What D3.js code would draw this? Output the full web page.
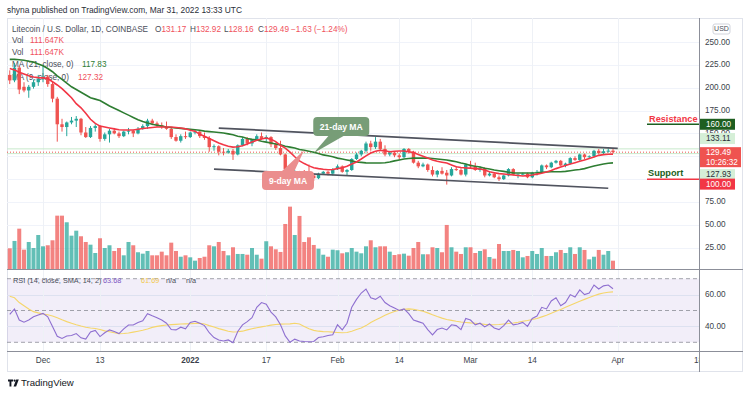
<!DOCTYPE html>
<html>
<head>
<meta charset="utf-8">
<title>LTCUSD 1D</title>
<script src="https://cdn.jsdelivr.net/npm/d3@7/dist/d3.min.js"></script>
<style>
  body { margin: 0; background: #fff; }
  svg { display: block; font-family: "Liberation Sans", Arial, sans-serif; }
</style>
</head>
<body>
<svg id="chart" width="750" height="395"></svg>
<script>
// Litecoin / U.S. Dollar, 1D, COINBASE - daily bars 2021-11-24 .. 2022-03-31
const firstDay = "2021-11-24";
const open = [214,208,222,201,197,201,206,210,212,204, 188,160,157,162,164,166,151,146,156,158,
  144,149,153,150,147,152,153,150,155,158, 164,161,159,157,155,146,142,147,146,151,
  152,147,145,135,136,130,129,131,127,137, 144,139,143,147,144,146,138,134,127,111,
  103,108,106,105,104,101,106,108,106,111, 114,108,110,122,127,131,139,135,141,133,
  127,129,126,124,133,130,118,114,116,110, 105,109,107,104,111,110,105,116,114,110,
  112,104,106,102,100,104,111,104,105,106, 102,107,108,115,113,118,120,115,117,123,
  121,127,124,125,131,128.5,130.5,131.17];
const high = [219,227,224,206,203,209,214,225,214,207, 190,166,163,168,169,167,157,158,160,159,
  151,155,156,152,153,156,154,157,160,166, 166,163,162,163,156,149,149,152,152,154,
  153,151,147,138,137,134,133,133,138,146, 146,144,149,151,148,147,140,142,128,112,
  110,109,110,116,106,107,109,109,112,116, 115,111,123,129,132,141,142,146,144,137,
  131,130,128,134,134,131,120,118,117,114, 110,113,110,113,114,112,117,120,118,114,
  113,108,107,104,105,112,112,106,107,107, 108,110,116,116,119,121,121,118,124,125,
  128,128,126,132,133,133,133.5,132.92];
const low = [204,206,193,195,189,199,202,206,201,184, 141,152,147,160,157,148,145,145,152,141,
  142,140,149,145,146,149,146,149,154,155, 159,157,155,154,144,141,140,144,145,149,
  145,143,130,131,126,126,128,121,126,136, 137,136,142,143,141,135,132,126,108,97,
  101,95,104,103,98,100,105,104,104,110, 107,104,109,121,125,129,131,133,131,125,
  125,124,121,123,128,117,112,113,108,103, 102,105,94,103,109,104,103,112,109,108,
  102,103,101,98,99,103,104,101,104,101, 101,104,107,111,112,117,114,113,116,120,
  120,122,122,124,127,127,129,128.16];
const close = [208,222,198,197,201,206,210,212,204,188, 160,157,162,164,166,151,146,156,158,144,
  149,153,150,147,152,153,150,155,158,164, 161,159,157,155,146,142,147,146,151,152,
  147,145,135,136,130,129,131,127,137,144, 139,143,147,144,146,138,134,127,111,103,
  108,106,105,104,101,106,108,106,111,114, 108,110,122,127,131,139,135,141,133,127,
  129,126,124,133,130,118,114,116,110,105, 109,106,104,111,110,105,116,114,110,112,
  104,106,102,100,104,111,105,105,106,102, 107,108,115,113,118,120,115,117,123,121,
  127,124,125,131,128.5,130.5,131.17,129.49];
// volume in thousands
const volume = [278,377,542,260,363,282,457,305,319,386, 717,717,628,448,515,440,363,327,215,413,
  282,319,242,282,184,363,319,225,206,242, 184,184,233,184,354,242,165,184,157,112,
  148,165,319,305,363,242,184,292,202,202, 192,282,192,139,373,305,265,229,605,838,
  457,713,363,426,323,273,192,165,260,252, 211,225,282,233,211,305,386,292,305,305,
  233,188,198,206,179,282,363,198,198,292, 282,225,592,292,233,202,292,292,215,242,
  265,161,139,336,242,242,256,242,157,175, 242,202,282,175,175,225,256,215,292,202,
  292,256,130,165,256,192,242,111.647];
const ma21 = [231,231,230.5,230,229,228,226,224,221,217.5, 213,209,205,201,198,195,192,189,187.5,186,
  183,180,177.5,175,172.5,170,167.5,165,163,161.5, 160,159,158,157,156.5,156,155.5,155,154.5,154,
  153.5,152.5,152,151.5,151,150.5,149.5,148.5,147,146, 144.5,143.5,142.8,141.5,140.5,139.5,138.5,137.5,136,135,
  134,132.5,131.5,130.5,129.5,128,126.5,125.5,124.5,123, 122,121,120,118.8,118.3,117.8,117.6,117.6,117.7,118,
  118.7,120,121,122,122.5,123,123,123,123,122.5, 122,121.5,121,120,119,117.6,116.5,115,114,113.2,
  112,111,110,109.2,108.5,107.5,106.8,106.7,106.7,106.7, 106.7,107,107.5,107.8,108,108,108,108.5,109.2,110,
  110.5,111.5,113,114.3,115.5,116.5,117.3,117.83];
const ma9 = [221,219.5,217,215,213,211.7,211,210.8,210,206.5, 203,199,194,189,182.5,178,172,165.5,161,158,
  157,156,155,154,153.7,153.7,153.7,154.5,155.3,156, 156.5,157,157,157,157,156.5,156,155,153.5,152.5,
  149,147,144.5,142,139.5,137.5,136,135,135.5,136.5, 138.5,140.5,142.5,144,145,143.5,141,137,134,129.5,
  124.5,120,117,114.5,112.5,111.5,110.8,110.3,110.5,111.5, 112.5,114,116.5,118.7,122,125.5,128.6,130.5,131.5,131,
  130,130.5,130.7,130.7,130,129,127,125,123,121, 119.5,118.5,117.6,115.5,113.5,112.8,112.3,112,111.5,111,
  110,108,107,106,105.6,105,104.5,104,103.4,103.8, 104.5,105.5,106.5,107.8,109.5,111.5,113.2,115,116.5,118,
  119.5,121,122.5,124.3,126,126.8,127.2,127.32];
const rsi = [47.5,51,44,42.6,44,46,47.2,48.2,46,40, 33.8,32.4,34,34.3,35.5,32.8,32,36.5,37.5,33.6,
  36,37.8,36.8,35.5,38.5,40.9,40.9,42.4,43.5,48, 46.7,45.5,44,42,38,37.8,39.5,38.5,42.5,43.2,
  42,40.5,36,33,31.5,30.8,31.5,29.7,36.8,41, 43,45.5,52,55,54,49,46,41,34,30,
  32,30.8,30.5,30.3,30.5,33,33.5,34.3,34.7,41, 37.8,42,52,57,61,63.5,58,57,59,55,
  53,51.5,50,51,48,44,43,42,38,34.7, 38,39,37.8,41,40.5,38,45,44,41,42,
  39.7,41.5,39,38,40.5,44,41,41.5,42.5,40, 45,46.5,52,51,56,58,53,55,60,58.5,
  63,60,61,66,63.5,65.5,66,63.68];
const rsiMa = [59,58,55,53,51,49.3,48.5,47.8,47.3,46.6, 45.5,44.2,43,42,41,40.2,39.5,39,38.7,38,
  37.2,36.6,36,35.4,35.5,35.8,36.4,37,37.6,38.4, 39.4,40,40.5,40.9,41.1,41.3,41.5,41.6,41.7,41.9,
  42,41.5,40.5,39.6,38.6,37.8,37,36.5,36.6,37, 37.8,38.5,39.2,39.7,40.2,40.8,41.2,41.4,41.5,41.6,
  42,41.5,40,38.5,37.5,37,36.7,36.6,36.4,36.2, 36,36.2,37,38,39,40.5,42.5,44,45.5,47,
  48.3,49.4,50.2,50.8,51,50.8,50.2,49.5,48.5,47.3, 46.2,45.2,44.3,43.8,43.2,42.8,42.5,42.2,42,41.7,
  41.3,41,41,41.2,41.5,41.8,42.1,42.6,43.2,43.7, 44.3,45,46,47,48.2,49.5,50.7,52,53.3,54.6,
  55.8,57,58.2,59.3,60.3,61,61.5,61.69];

const priceTicks = [25, 50, 75, 100, 125, 150, 175, 200, 225, 250];
const rsiGrid = [40, 60];
const rsiLevels = [30, 50, 70];
const timeTicks = ["2021-12-01", "2021-12-13", "2022-01-01", "2022-01-17", "2022-02-01",
  "2022-02-14", "2022-03-01", "2022-03-14", "2022-04-01", "2022-04-18"];
const timeLabels = ["Dec", "13", "2022", "17", "Feb", "14", "Mar", "14", "Apr", "18"];
const channelTop = [["2022-01-07", 155.9], ["2022-04-01", 133.6]];
const channelBottom = [["2022-01-06", 111.0], ["2022-03-30", 90.0]];
const resistance = 160, support = 100;

const upColor = "#26a69a", downColor = "#ef5350";
const plotL = 7, plotR = 699, frameR = 742;
const paneT = 18, paneB = 269, rsiB = 351, frameB = 371;

const parse = d3.utcParse("%Y-%m-%d");
const dates = close.map((_, i) => d3.utcDay.offset(parse(firstDay), i));
const bars = dates.map((date, i) => ({date, o: open[i], h: high[i], l: low[i], c: close[i], v: volume[i]}));
const last = close[close.length - 1];

const x = d3.scaleUtc().domain([parse("2021-12-01"), parse("2022-04-18")]).range([43, 698.5]);
const y = d3.scaleLinear().domain([25, 250]).range([247.7, 42]);
const yVol = d3.scaleLinear().domain([0, 840]).range([paneB, 206.5]);
const yRsi = d3.scaleLinear().domain([30, 70]).range([342.3, 278.7]);

const svg = d3.select("#chart");
const defs = svg.append("defs");
defs.append("clipPath").attr("id", "clipPrice").append("rect")
  .attr("x", plotL).attr("y", paneT).attr("width", plotR - plotL).attr("height", paneB - paneT);
defs.append("clipPath").attr("id", "clipRsi").append("rect")
  .attr("x", plotL).attr("y", paneB).attr("width", plotR - plotL).attr("height", rsiB - paneB);
defs.append("clipPath").attr("id", "clipTime").append("rect")
  .attr("x", plotL).attr("y", rsiB).attr("width", plotR - plotL).attr("height", frameB - rsiB);

// header
svg.append("text").attr("x", 7).attr("y", 10).attr("dy", "0.35em")
  .attr("font-size", 8.4).attr("fill", "#2a2e39")
  .text("shyna published on TradingView.com, Mar 31, 2022 13:33 UTC");

// frame
svg.append("rect").attr("x", plotL + 0.5).attr("y", paneT + 0.5)
  .attr("width", frameR - plotL).attr("height", frameB - paneT)
  .attr("fill", "none").attr("stroke", "#e0e3eb");

// rsi band
svg.append("rect").attr("x", plotL).attr("width", plotR - plotL)
  .attr("y", yRsi(70)).attr("height", yRsi(30) - yRsi(70))
  .attr("fill", "rgba(126,87,194,0.1)");

// grid
const grid = svg.append("g").attr("stroke-width", 1);
grid.selectAll(".gy").data(priceTicks).join("line")
  .attr("x1", plotL).attr("x2", plotR)
  .attr("y1", d => Math.round(y(d)) + 0.5).attr("y2", d => Math.round(y(d)) + 0.5)
  .attr("stroke", "#f0f3fa");
grid.selectAll(".gr").data(rsiGrid).join("line")
  .attr("x1", plotL).attr("x2", plotR)
  .attr("y1", d => Math.round(yRsi(d)) + 0.5).attr("y2", d => Math.round(yRsi(d)) + 0.5)
  .attr("stroke", "#dde1f0");
grid.selectAll(".gx").data(timeTicks.slice(0, -1)).join("line")
  .attr("x1", d => Math.round(x(parse(d))) + 0.5).attr("x2", d => Math.round(x(parse(d))) + 0.5)
  .attr("y1", paneT).attr("y2", rsiB)
  .attr("stroke", "#eef1f6");

svg.append("g").selectAll("line").data(rsiLevels).join("line")
  .attr("x1", plotL).attr("x2", plotR)
  .attr("y1", d => yRsi(d)).attr("y2", d => yRsi(d))
  .attr("stroke", "#8a8d96").attr("stroke-width", 0.8).attr("stroke-dasharray", "4,3");

// legends (drawn under the series)
const legend = svg.append("g").attr("font-size", 8.2).attr("dominant-baseline", "central");
legend.append("text").attr("x", 12).attr("y", 29).attr("fill", "#4a4e59")
  .text("Litecoin / U.S. Dollar, 1D, COINBASE");
[["O", "131.17", 155], ["H", "132.92", 190], ["L", "128.16", 224], ["C", "129.49", 258]].forEach(([k, v, px]) => {
  const t = legend.append("text").attr("x", px).attr("y", 29);
  t.append("tspan").attr("fill", "#4a4e59").text(k);
  t.append("tspan").attr("fill", "#f0525c").text(v);
});
legend.append("text").attr("x", 291).attr("y", 29).attr("fill", "#f0525c").text("\u22121.63 (\u22121.24%)");
[40.7, 52.3].forEach(py => {
  legend.append("text").attr("x", 12).attr("y", py).attr("fill", "#4a4e59").text("Vol");
  legend.append("text").attr("x", 30).attr("y", py).attr("fill", "#f0525c").text("111.647K");
});
legend.append("text").attr("x", 12).attr("y", 64.3).attr("fill", "#4a4e59").text("MA (21, close, 0)");
legend.append("text").attr("x", 82).attr("y", 64.3).attr("fill", "#2e7d32").text("117.83");
legend.append("text").attr("x", 12).attr("y", 77.3).attr("fill", "#4a4e59").text("MA (9, close, 0)");
legend.append("text").attr("x", 78).attr("y", 77.3).attr("fill", "#f0525c").text("127.32");

const rsiLegend = legend.append("g").attr("font-size", 7.3);
rsiLegend.append("text").attr("x", 13).attr("y", 280).attr("fill", "#4a4e59").text("RSI (14, close, SMA, 14, 2)");
rsiLegend.append("text").attr("x", 103).attr("y", 280).attr("fill", "#7e57c2").text("63.68");
rsiLegend.append("text").attr("x", 141).attr("y", 280).attr("fill", "#f2c94c").text("61.69");
rsiLegend.append("text").attr("x", 166).attr("y", 280).attr("fill", "#4a4e59").text("n/a");
rsiLegend.append("text").attr("x", 186).attr("y", 280).attr("fill", "#4a4e59").text("n/a");

// price pane
const price = svg.append("g").attr("clip-path", "url(#clipPrice)");
price.selectAll(".vol").data(bars).join("rect")
  .attr("x", d => x(d.date) - 2).attr("width", 4)
  .attr("y", d => yVol(d.v)).attr("height", d => paneB - yVol(d.v))
  .attr("fill", d => d.c >= d.o ? upColor : downColor).attr("fill-opacity", 0.72);

[133.11, 127.93].forEach(p => {
  price.append("line").attr("x1", plotL).attr("x2", plotR)
    .attr("y1", y(p)).attr("y2", y(p)).attr("stroke", "#c8e9cc").attr("stroke-width", 1);
});
price.append("line").attr("x1", plotL).attr("x2", plotR)
  .attr("y1", y(last)).attr("y2", y(last))
  .attr("stroke", downColor).attr("stroke-width", 1).attr("stroke-dasharray", "1,2");

price.selectAll(".wick").data(bars).join("line")
  .attr("x1", d => x(d.date)).attr("x2", d => x(d.date))
  .attr("y1", d => y(d.h)).attr("y2", d => y(d.l))
  .attr("stroke", d => d.c >= d.o ? upColor : downColor).attr("stroke-width", 1);
price.selectAll(".body").data(bars).join("rect")
  .attr("x", d => x(d.date) - 1.7).attr("width", 3.4)
  .attr("y", d => y(Math.max(d.o, d.c)))
  .attr("height", d => Math.max(1, Math.abs(y(d.o) - y(d.c))))
  .attr("fill", d => d.c >= d.o ? upColor : downColor);

const maLine = vals => d3.line().x((v, i) => x(dates[i])).y(v => y(v))(vals);
price.append("path").attr("d", maLine(ma21)).attr("fill", "none")
  .attr("stroke", "#2e7d32").attr("stroke-width", 1.6);
price.append("path").attr("d", maLine(ma9)).attr("fill", "none")
  .attr("stroke", "#f23645").attr("stroke-width", 1.6);

// channel
[channelTop, channelBottom].forEach(seg => {
  price.append("line")
    .attr("x1", x(parse(seg[0][0]))).attr("y1", y(seg[0][1]))
    .attr("x2", x(parse(seg[1][0]))).attr("y2", y(seg[1][1]))
    .attr("stroke", "#50535e").attr("stroke-width", 1.7);
});

// callouts
function callout({date, price: p, dx, w, h, tip, base, fill, label}) {
  const cx = x(parse(date)) + dx, cy = y(p);
  const tx = x(parse(tip[0])), ty = y(tip[1]);
  const by = ty > cy ? cy + h / 2 - 1 : cy - h / 2 + 1;
  const g = svg.append("g");
  g.append("path").attr("d", `M${cx + base[0]},${by}L${tx},${ty}L${cx + base[1]},${by}Z`).attr("fill", fill);
  g.append("rect").attr("x", cx - w / 2).attr("y", cy - h / 2).attr("width", w).attr("height", h)
    .attr("rx", 4).attr("fill", fill);
  g.append("text").attr("x", cx).attr("y", cy).attr("dy", "0.35em").attr("text-anchor", "middle")
    .attr("font-size", 8.6).attr("font-weight", "bold").attr("fill", "#fff").text(label);
}
callout({date: "2022-02-02", price: 157.5, dx: -1, w: 56, h: 19, tip: ["2022-01-27", 128.6], base: [-12, 4], fill: "#779d77", label: "21-day MA"});
callout({date: "2022-01-22", price: 98.5, dx: -2, w: 52, h: 19, tip: ["2022-01-25", 131.8], base: [-7, 6], fill: "#eb8e8e", label: "9-day MA"});

// resistance / support marks
const rs = svg.append("g").attr("font-size", 9.2).attr("font-weight", "bold");
rs.append("line").attr("x1", 647).attr("x2", plotR).attr("y1", y(resistance)).attr("y2", y(resistance))
  .attr("stroke", "#1b5e20").attr("stroke-width", 1.5);
rs.append("text").attr("x", 649).attr("y", y(resistance) - 2.6).attr("fill", "#f23645").text("Resistance");
rs.append("line").attr("x1", 647).attr("x2", plotR).attr("y1", y(support)).attr("y2", y(support))
  .attr("stroke", "#f23645").attr("stroke-width", 1.5);
rs.append("text").attr("x", 648).attr("y", y(support) - 3).attr("fill", "#1b5e20").text("Support");

// rsi pane
const rsiG = svg.append("g").attr("clip-path", "url(#clipRsi)");
const rsiLine = vals => d3.line().x((v, i) => x(dates[i])).y(v => yRsi(v))(vals);
rsiG.append("path").attr("d", rsiLine(rsiMa)).attr("fill", "none").attr("stroke", "#f5d66b").attr("stroke-width", 1.1);
rsiG.append("path").attr("d", rsiLine(rsi)).attr("fill", "none").attr("stroke", "#8e6fd0").attr("stroke-width", 1.1);

// axes lines
const axisCol = "#8c8f99";
svg.append("line").attr("x1", plotR + 0.5).attr("x2", plotR + 0.5).attr("y1", paneT).attr("y2", frameB + 1).attr("stroke", axisCol);
svg.append("line").attr("x1", plotL).attr("x2", frameR + 1).attr("y1", paneB + 0.5).attr("y2", paneB + 0.5).attr("stroke", axisCol);
svg.append("line").attr("x1", plotL).attr("x2", frameR + 1).attr("y1", rsiB + 0.5).attr("y2", rsiB + 0.5).attr("stroke", axisCol);

// price tags, stacked on the axis so they do not overlap
const tags = [
  {value: 160, cy: y(160), w: 35, h: 11, fill: "#1e5e20", color: "#fff"},
  {value: 133.11, cy: y(133.11) - 10.3, w: 35, h: 11, fill: "#d5efd7", color: "#2a2e39"},
  {value: last, cy: y(last) + 5, w: 41, h: 20, fill: "#ef5350", color: "#fff", sub: "10:26:32"},
  {value: 127.93, cy: y(127.93) + 21, w: 35, h: 11, fill: "#d5efd7", color: "#2a2e39"},
  {value: 100, cy: y(100) + 5, w: 35, h: 11, fill: "#f23645", color: "#fff"}
];
const covered = p => tags.some(t => Math.abs(y(p) - t.cy) < t.h / 2 - 0.5);

// price axis
const pAxis = svg.append("g").attr("font-size", 8.2).attr("dominant-baseline", "central").attr("fill", "#3b3f4a");
pAxis.selectAll(".pt").data(priceTicks.filter(p => !covered(p))).join("text")
  .attr("x", 705).attr("y", d => y(d)).text(d => d3.format(".2f")(d));
pAxis.selectAll(".rt").data(rsiGrid).join("text")
  .attr("x", 705).attr("y", d => yRsi(d)).text(d => d3.format(".2f")(d));

const usd = svg.append("g");
usd.append("rect").attr("x", 713).attr("y", 24).attr("width", 17).attr("height", 10).attr("rx", 2)
  .attr("fill", "#fff").attr("stroke", "#d1d4dc");
usd.append("text").attr("x", 721.5).attr("y", 29).attr("dy", "0.35em").attr("text-anchor", "middle")
  .attr("font-size", 7).attr("fill", "#4a4e59").text("USD");

tags.forEach(t => {
  svg.append("rect").attr("x", plotR + 1).attr("y", t.cy - t.h / 2).attr("width", t.w).attr("height", t.h).attr("fill", t.fill);
  const ty = t.sub ? t.cy - 5 : t.cy;
  svg.append("text").attr("x", 706).attr("y", ty).attr("dy", "0.35em").attr("font-size", 8.2)
    .attr("fill", t.color).text(d3.format(".2f")(t.value));
  if (t.sub) svg.append("text").attr("x", 706).attr("y", t.cy + 5).attr("dy", "0.35em").attr("font-size", 8.2)
    .attr("fill", t.color).text(t.sub);
});

// time axis
svg.append("g").attr("clip-path", "url(#clipTime)").selectAll("text").data(timeTicks).join("text")
  .attr("x", d => x(parse(d))).attr("y", 360).attr("dy", "0.35em").attr("text-anchor", "middle")
  .attr("font-size", 8.2).attr("fill", "#3b3f4a")
  .attr("font-weight", (d, i) => timeLabels[i] === "2022" ? "bold" : null)
  .text((d, i) => timeLabels[i]);

// footer logo
const logo = svg.append("g").attr("fill", "#131722");
logo.append("path").attr("d", "M8,379.5h5v2h-1.6v5h-1.9v-5H8Z");
logo.append("circle").attr("cx", 14.6).attr("cy", 380.6).attr("r", 1.1);
logo.append("path").attr("d", "M16.2,379.5h2.6l-2.7,7h-2.5Z");
logo.append("text").attr("x", 21).attr("y", 383).attr("dy", "0.35em").attr("font-size", 9.6).text("TradingView");
</script>
</body>
</html>
